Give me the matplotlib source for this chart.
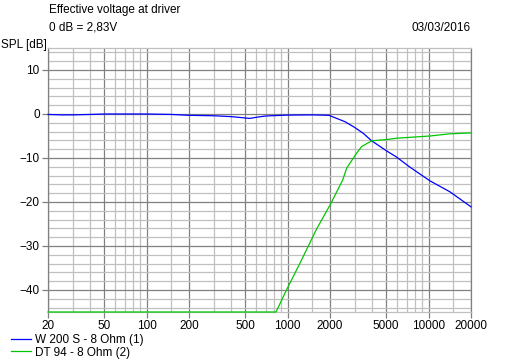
import matplotlib
matplotlib.use("Agg")
import matplotlib.pyplot as plt
from matplotlib.ticker import FixedLocator, NullFormatter
import numpy as np

plt.rcParams['font.family'] = ['Liberation Sans', 'DejaVu Sans']
plt.rcParams['font.size'] = 8.5

# W 200 S - 8 Ohm (1)
woofer_f = [20, 25, 30, 40, 50, 100, 150, 200, 300, 400, 500, 540, 600, 700, 1000,
            1500, 1970, 2230, 2555, 3008, 3446, 3950, 5050, 5940, 7390, 10240, 14200, 20000]
woofer_db = [-0.1, -0.2, -0.2, -0.1, 0.0, 0.0, -0.1, -0.3, -0.4, -0.6, -0.9, -1.0, -0.75, -0.45, -0.25,
             -0.2, -0.3, -1.0, -1.75, -3.1, -4.4, -6.1, -8.4, -9.8, -12.1, -15.2, -17.7, -21.1]

# DT 94 - 8 Ohm (2)
tweeter_f = [20, 828, 1000, 1225, 1609, 2000, 2461, 2625, 3090, 3350, 3950, 5050, 5940, 7390, 10240, 14200, 20000]
tweeter_db = [-45, -45, -39.5, -33.9, -26.1, -20.7, -15.0, -12.3, -8.9, -7.4, -6.1, -5.8, -5.5, -5.3, -5.0, -4.5, -4.3]

x_major = [20, 50, 100, 200, 500, 1000, 2000, 5000, 10000, 20000]
x_minor = [30, 40, 60, 70, 80, 90, 150, 300, 400, 600, 700, 800, 900, 1500,
           3000, 4000, 6000, 7000, 8000, 9000, 15000]
y_major = [-40, -30, -20, -10, 0, 10]
y_minor = [v for v in range(-44, 16, 2) if v % 10 != 0]

dark = '#808080'
light = '#c0c0c0'

fig = plt.figure(figsize=(5.14, 3.62), dpi=100)
ax = fig.add_axes([48 / 514, 50 / 362, 423 / 514, 264 / 362])
ax.set_xscale('log')
ax.set_xlim(20, 20000)
ax.set_ylim(-45, 15)

ax.xaxis.set_major_locator(FixedLocator(x_major))
ax.xaxis.set_minor_locator(FixedLocator(x_minor))
ax.xaxis.set_minor_formatter(NullFormatter())
ax.set_xticklabels([str(v) for v in x_major])
ax.yaxis.set_major_locator(FixedLocator(y_major))
ax.yaxis.set_minor_locator(FixedLocator(y_minor))

ax.grid(True, which='major', color=dark, lw=0.9)
ax.grid(True, which='minor', color=light, lw=0.9)
ax.set_axisbelow(True)
ax.tick_params(which='major', length=4, width=0.9, color=dark, pad=2, labelsize=8.5)
ax.tick_params(which='minor', length=0)

for side in ['left', 'right']:
    ax.spines[side].set_color(dark)
    ax.spines[side].set_linewidth(0.9)
for side in ['top', 'bottom']:
    ax.spines[side].set_color(light)
    ax.spines[side].set_linewidth(0.9)

ax.plot(woofer_f, woofer_db, color='#0000ff', lw=0.9, label='W 200 S - 8 Ohm (1)', clip_on=False, zorder=3)
ax.plot(tweeter_f, tweeter_db, color='#00c800', lw=0.9, label='DT 94 - 8 Ohm (2)', clip_on=False, zorder=3)

fig.text(49 / 514, 1 - 10 / 362, 'Effective voltage at driver', va='center', ha='left')
fig.text(49 / 514, 1 - 28 / 362, '0 dB = 2,83V', va='center', ha='left')
fig.text(471 / 514, 1 - 28 / 362, '03/03/2016', va='center', ha='right')
fig.text(1 / 514, 1 - 45 / 362, 'SPL [dB]', va='center', ha='left')

fig.legend(loc='lower left', bbox_to_anchor=(0.008, -0.01), frameon=False,
           handlelength=1.7, handletextpad=0.3, labelspacing=0.05, borderaxespad=0.2)

fig.savefig('out.png', dpi=100)
